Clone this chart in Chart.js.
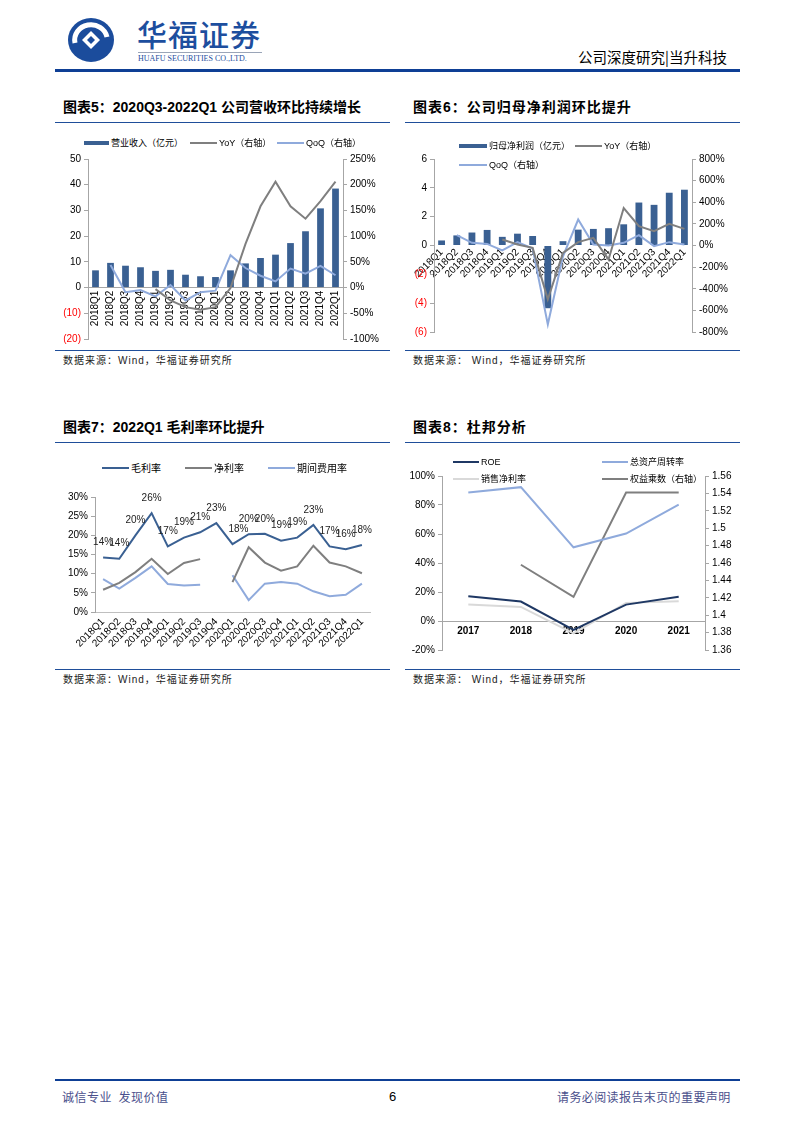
<!DOCTYPE html>
<html>
<head>
<meta charset="utf-8">
<script src="https://cdn.jsdelivr.net/npm/chart.js@4.4.1/dist/chart.umd.min.js"></script>
<style>
  body { margin: 0; background: #fff; }
  #page { position: relative; width: 793px; height: 1122px; overflow: hidden;
    font-family: "Liberation Sans", Arial, "Noto Sans CJK SC", sans-serif; color: #000; }
  .abs { position: absolute; white-space: nowrap; }
  .rule { position: absolute; height: 0; border-top: 1.5px solid #1F4E9A; }
  .title { position: absolute; font-weight: bold; font-size: 14px; line-height: 16px; white-space: nowrap; }
  .src { position: absolute; font-size: 10px; line-height: 12px; color: #222; letter-spacing: 1px; white-space: nowrap; }
  .lg { position: absolute; font-size: 9px; line-height: 12px; white-space: nowrap; }
  .lg i { display: inline-block; vertical-align: middle; margin-right: 2px; margin-top: -2px; }
  canvas { position: absolute; }
</style>
</head>
<body>
<div id="page">
  <!-- header -->
  <svg class="abs" style="left:66px;top:16px" width="50" height="48" viewBox="0 0 50 48">
    <ellipse cx="25" cy="24" rx="23" ry="22" fill="#1B4C9C"/>
    <path d="M 9 27 A 16 15 0 1 1 41 21" stroke="#fff" stroke-width="5" fill="none"/>
    <path d="M25 15 L34 24 L25 33 L16 24 Z" fill="#fff"/>
    <path d="M25 20 L29 24 L25 28 L21 24 Z" fill="#1B4C9C"/>
  </svg>
  <div class="abs" style="left:137px;top:15px;font-size:30px;line-height:36px;color:#1D4E9E;font-family:'Noto Sans CJK SC';font-weight:500;letter-spacing:1px">华福证券</div>
  <div class="abs" style="left:138px;top:52px;width:124px;border-top:1px solid #9aa5b8"></div>
  <div class="abs" style="left:138px;top:54px;font-size:8px;line-height:10px;color:#1D4E9E;font-family:'Liberation Serif',serif">HUAFU SECURITIES CO.,LTD.</div>
  <div class="abs" style="left:578px;top:48px;font-size:14.5px;line-height:18px;font-family:'Noto Sans CJK SC'">公司深度研究|当升科技</div>
  <div class="abs" style="left:55px;top:69px;width:685px;border-top:3px solid #0E3F95"></div>

  <!-- titles -->
  <div class="title" style="left:63px;top:99px">图表5：2020Q3-2022Q1 公司营收环比持续增长</div>
  <div class="rule" style="left:55px;top:122px;width:335px"></div>
  <div class="title" style="left:413px;top:99px;letter-spacing:1px">图表6：公司归母净利润环比提升</div>
  <div class="rule" style="left:405px;top:122px;width:335px"></div>
  <div class="rule" style="left:55px;top:350px;width:335px"></div>
  <div class="rule" style="left:405px;top:350px;width:335px"></div>
  <div class="src" style="left:63px;top:355px">数据来源：Wind，华福证券研究所</div>
  <div class="src" style="left:413px;top:355px">数据来源： Wind，华福证券研究所</div>

  <div class="title" style="left:63px;top:419px">图表7：2022Q1 毛利率环比提升</div>
  <div class="rule" style="left:55px;top:442px;width:335px"></div>
  <div class="title" style="left:413px;top:419px;letter-spacing:1px">图表8：杜邦分析</div>
  <div class="rule" style="left:405px;top:442px;width:335px"></div>
  <div class="rule" style="left:55px;top:669px;width:335px"></div>
  <div class="rule" style="left:405px;top:669px;width:335px"></div>
  <div class="src" style="left:63px;top:674px">数据来源：Wind，华福证券研究所</div>
  <div class="src" style="left:413px;top:674px">数据来源： Wind，华福证券研究所</div>

  <canvas id="c5" width="335" height="200" style="left:55px;top:150px"></canvas>
  <canvas id="c6" width="335" height="200" style="left:405px;top:150px"></canvas>
  <canvas id="c7" width="335" height="185" style="left:55px;top:485px"></canvas>
  <canvas id="c8" width="335" height="196" style="left:405px;top:466px"></canvas>

  <!-- footer -->
  <div class="abs" style="left:55px;top:1079px;width:685px;border-top:2.5px solid #0E3F95"></div>
  <div class="abs" style="left:62px;top:1090px;font-size:12px;line-height:14px;color:#4A4F8C;letter-spacing:0.5px;font-family:'Noto Sans CJK SC'">诚信专业&nbsp;&nbsp;发现价值</div>
  <div class="abs" style="left:389px;top:1090px;font-size:13px;line-height:14px">6</div>
  <div class="abs" style="left:557px;top:1090px;font-size:12px;line-height:14px;color:#4A4F8C;letter-spacing:0.4px;font-family:'Noto Sans CJK SC'">请务必阅读报告末页的重要声明</div>
</div>

<script>
const quarters = ['2018Q1', '2018Q2', '2018Q3', '2018Q4', '2019Q1', '2019Q2', '2019Q3', '2019Q4',
  '2020Q1', '2020Q2', '2020Q3', '2020Q4', '2021Q1', '2021Q2', '2021Q3', '2021Q4', '2022Q1'];

// 图表5 营业收入（亿元）, YoY / QoQ (%)
const revenue = [6.7, 9.6, 8.5, 7.9, 6.5, 6.9, 5.0, 4.4, 4.1, 6.7, 9.4, 11.5, 12.8, 17.3, 21.9, 30.8, 38.5];
const revenueYoY = [null, null, null, null, -3, -25, -38, -43, -38, -1, 85, 158, 206, 158, 134, 168, 206];
const revenueQoQ = [null, 44, -9, -5, -17, 5, -25, -9, -6, 63, 38, 23, 12, 37, 27, 42, 24];

// 图表6 归母净利润（亿元）, YoY / QoQ (%)
const netProfit = [0.35, 0.7, 0.9, 1.08, 0.6, 0.82, 0.66, -4.35, 0.3, 1.1, 1.15, 1.2, 1.47, 2.98, 2.82, 3.66, 3.87];
const netProfitYoY = [null, null, null, null, 55, 9, -22, -498, -68, 31, 71, -129, 346, 178, 132, 200, 154];
const netProfitQoQ = [null, 95, 25, 15, -46, 31, -28, -729, -100, 240, 9, 0, 25, 95, -6, 31, 9];

// 图表7 (%)
const grossMargin = [14.2, 13.9, 20.0, 25.8, 17.1, 19.4, 20.8, 23.2, 17.7, 20.3, 20.4, 18.6, 19.4, 22.7, 17.1, 16.4, 17.5];
const netMargin = [5.8, 7.6, 10.4, 13.9, 9.9, 12.8, 13.8, null, 7.8, 16.9, 12.9, 10.8, 11.9, 17.3, 12.9, 11.9, 10.1];
const expenseRatio = [8.6, 6.1, 8.9, 11.9, 7.3, 6.9, 7.1, null, 9.6, 3.1, 7.4, 7.8, 7.4, 5.4, 4.1, 4.5, 7.4];

// 图表8 杜邦分析
const years = ['2017', '2018', '2019', '2020', '2021'];
const roe = [17.0, 13.4, -6.1, 11.3, 16.8];
const salesNetMargin = [11.4, 9.7, -8.5, 12.5, 13.6];
const assetTurnover = [88.6, 92.3, 50.8, 60.3, 80.3];
const equityMultiplier = [null, 1.458, 1.421, 1.541, 1.541];

const BLUE = '#3A6092', GRAY = '#7F7F7F', LIGHT = '#8FAADC', NAVY = '#1F3864', PALE = '#D9D9D9';
const AXIS = '#A6A6A6', RED = '#FF0000';

Chart.defaults.font.family = '"Liberation Sans", Arial, "Noto Sans CJK SC", sans-serif';
Chart.defaults.font.size = 10;
Chart.defaults.color = '#000';
Chart.defaults.animation = false;
Chart.defaults.responsive = false;
Chart.defaults.plugins.legend.display = false;
Chart.defaults.plugins.tooltip.enabled = false;
Chart.defaults.elements.point.radius = 0;
Chart.defaults.elements.line.borderWidth = 2;
Chart.defaults.elements.line.tension = 0;

const page = document.getElementById('page');
function legend(items) {
  items.forEach(it => {
    const d = document.createElement('div');
    d.className = 'lg';
    d.style.left = it.x + 'px';
    d.style.top = (it.y - 6) + 'px';
    if (it.size) d.style.fontSize = it.size + 'px';
    d.innerHTML = '<i style="width:' + it.w + 'px;height:' + it.h + 'px;background:' + it.color + '"></i>' + it.text;
    page.appendChild(d);
  });
}

const sideAxis = (pos, width, extra) => Object.assign({
  position: pos,
  grid: { drawOnChartArea: false, tickLength: 4, color: AXIS },
  border: { color: AXIS },
  ticks: { padding: 3 },
  afterFit: s => { s.width = width; }
}, extra);

const negParen = v => v < 0 ? '(' + (-v) + ')' : '' + v;
const negRed = c => c.tick && c.tick.value < 0 ? RED : '#000';

// 图表5
new Chart(document.getElementById('c5'), {
  data: {
    labels: quarters,
    datasets: [
      { type: 'line', label: 'YoY（右轴）', data: revenueYoY, yAxisID: 'y1', borderColor: GRAY, order: 1 },
      { type: 'line', label: 'QoQ（右轴）', data: revenueQoQ, yAxisID: 'y1', borderColor: LIGHT, order: 2 },
      { type: 'bar', label: '营业收入（亿元）', data: revenue, yAxisID: 'y', backgroundColor: BLUE,
        barPercentage: 0.45, categoryPercentage: 1, order: 3 }
    ]
  },
  options: {
    layout: { padding: { top: 7, bottom: 11 } },
    scales: {
      x: { position: { y: 0 }, grid: { display: false, drawTicks: false }, border: { color: AXIS },
        ticks: { minRotation: 90, maxRotation: 90, autoSkip: false, padding: 3 } },
      y: sideAxis('left', 33, { min: -20, max: 50,
        ticks: { stepSize: 10, padding: 3, callback: negParen, color: negRed } }),
      y1: sideAxis('right', 47, { min: -100, max: 250,
        ticks: { stepSize: 50, padding: 3, callback: v => v + '%' } })
    }
  }
});
legend([
  { x: 84, y: 143, w: 25, h: 4, color: BLUE, text: '营业收入（亿元）' },
  { x: 190, y: 143, w: 27, h: 2, color: GRAY, text: 'YoY（右轴）' },
  { x: 277, y: 143, w: 27, h: 2, color: LIGHT, text: 'QoQ（右轴）' }
]);

// 图表6
new Chart(document.getElementById('c6'), {
  data: {
    labels: quarters,
    datasets: [
      { type: 'line', label: 'YoY（右轴）', data: netProfitYoY, yAxisID: 'y1', borderColor: GRAY, order: 1 },
      { type: 'line', label: 'QoQ（右轴）', data: netProfitQoQ, yAxisID: 'y1', borderColor: LIGHT, order: 2 },
      { type: 'bar', label: '归母净利润（亿元）', data: netProfit, yAxisID: 'y', backgroundColor: BLUE,
        barPercentage: 0.45, categoryPercentage: 1, order: 3 }
    ]
  },
  options: {
    layout: { padding: { top: 8, bottom: 18 } },
    scales: {
      x: { position: { y: 0 }, grid: { display: false, drawTicks: false }, border: { display: false },
        ticks: { minRotation: 45, maxRotation: 45, autoSkip: false, padding: 1 } },
      y: sideAxis('left', 29, { min: -6, max: 6,
        ticks: { stepSize: 2, padding: 3, callback: negParen, color: negRed } }),
      y1: sideAxis('right', 48, { min: -800, max: 800,
        ticks: { stepSize: 200, padding: 3, callback: v => v + '%' } })
    }
  }
});
legend([
  { x: 459, y: 146, w: 28, h: 4, color: BLUE, text: '归母净利润（亿元）' },
  { x: 575, y: 146, w: 27, h: 2, color: GRAY, text: 'YoY（右轴）' },
  { x: 459, y: 165, w: 28, h: 2, color: LIGHT, text: 'QoQ（右轴）' }
]);

// 图表7
const pctLabels = {
  id: 'pctLabels',
  afterDatasetsDraw(chart) {
    const meta = chart.getDatasetMeta(0);
    const vals = chart.data.datasets[0].data;
    const c = chart.ctx;
    c.save();
    c.font = '10px "Liberation Sans", Arial';
    c.fillStyle = '#222';
    c.textAlign = 'center';
    c.textBaseline = 'middle';
    meta.data.forEach((pt, i) => {
      if (vals[i] == null) return;
      const dx = i === 8 ? 6 : 0;
      c.fillText(Math.round(vals[i]) + '%', pt.x + dx, pt.y - 15);
    });
    c.restore();
  }
};
new Chart(document.getElementById('c7'), {
  type: 'line',
  data: {
    labels: quarters,
    datasets: [
      { label: '毛利率', data: grossMargin, borderColor: BLUE, order: 1 },
      { label: '净利率', data: netMargin, borderColor: GRAY, order: 2 },
      { label: '期间费用率', data: expenseRatio, borderColor: LIGHT, order: 3 }
    ]
  },
  options: {
    layout: { padding: { top: 12, right: 20 } },
    scales: {
      x: { offset: true, grid: { display: false, drawTicks: false }, border: { color: '#BFBFBF' },
        ticks: { minRotation: 45, maxRotation: 45, autoSkip: false, padding: 4 },
        afterFit: s => { s.height = 58; } },
      y: sideAxis('left', 40, { min: 0, max: 30,
        ticks: { stepSize: 5, padding: 3, callback: v => v + '%' } })
    }
  },
  plugins: [pctLabels]
});
legend([
  { x: 102, y: 469, w: 27, h: 2, color: BLUE, text: '毛利率', size: 10 },
  { x: 185, y: 469, w: 27, h: 2, color: GRAY, text: '净利率', size: 10 },
  { x: 268, y: 469, w: 27, h: 2, color: LIGHT, text: '期间费用率', size: 10 }
]);

// 图表8
new Chart(document.getElementById('c8'), {
  type: 'line',
  data: {
    labels: years,
    datasets: [
      { label: 'ROE', data: roe, borderColor: NAVY, yAxisID: 'y', order: 1 },
      { label: '销售净利率', data: salesNetMargin, borderColor: PALE, yAxisID: 'y', order: 2 },
      { label: '总资产周转率', data: assetTurnover, borderColor: LIGHT, yAxisID: 'y', order: 3 },
      { label: '权益乘数（右轴）', data: equityMultiplier, borderColor: GRAY, yAxisID: 'y1', order: 4 }
    ]
  },
  options: {
    layout: { padding: { top: 10, bottom: 12 } },
    scales: {
      x: { position: { y: 0 }, offset: true, grid: { display: false, drawTicks: false }, border: { color: AXIS },
        ticks: { padding: 4, font: { weight: 'bold' } } },
      y: sideAxis('left', 37, { min: -20, max: 100,
        ticks: { stepSize: 20, padding: 3, callback: v => v + '%' } }),
      y1: sideAxis('right', 35, { min: 1.36, max: 1.56,
        ticks: { stepSize: 0.02, padding: 3, callback: v => String(parseFloat(v.toFixed(2))) } })
    }
  }
});
legend([
  { x: 453, y: 462, w: 26, h: 2, color: NAVY, text: 'ROE' },
  { x: 602, y: 462, w: 26, h: 2, color: LIGHT, text: '总资产周转率' },
  { x: 453, y: 479, w: 26, h: 2, color: PALE, text: '销售净利率' },
  { x: 602, y: 479, w: 26, h: 2, color: GRAY, text: '权益乘数（右轴）' }
]);
</script>
</body>
</html>
